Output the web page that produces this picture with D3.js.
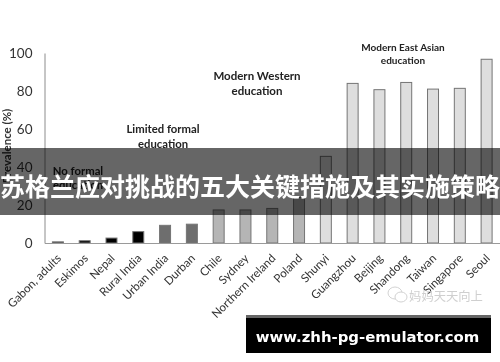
<!DOCTYPE html>
<html><head><meta charset="utf-8">
<script src="https://cdn.jsdelivr.net/npm/d3@7"></script>
<style>html,body{margin:0;padding:0;background:#fff}svg{display:block}</style>
</head><body><div id="c"></div>
<script>
const categories = ["Gabon, adults","Eskimos","Nepal","Rural India","Urban India","Durban","Chile","Sydney","Northern Ireland","Poland","Shunyi","Guangzhou","Beijing","Shandong","Taiwan","Singapore","Seoul"];
const values = [0.6,1.2,2.6,6,9.3,9.9,17.4,17.4,18.2,24,45.6,84,80.7,84.5,81,81.4,96.7];
const groups = [0,0,0,0,1,1,2,2,2,2,3,3,3,3,3,3,3];
const groupFill = ["#000000","#6e6e6e","#b5b5b5","#dedede"];
const yTicks = [0,20,40,60,80,100];
const notes = [
 {lines:["No formal","education"],x:78,y:175,size:11.3,gap:14},
 {lines:["Limited formal","education"],x:163,y:133,size:11.3,gap:14.5},
 {lines:["Modern Western","education"],x:257,y:80,size:11.5,gap:15},
 {lines:["Modern East Asian","education"],x:403,y:51,size:10,gap:13}
];
const bannerText = "苏格兰应对挑战的五大关键措施及其实施策略";
const footerText = "www.zhh-pg-emulator.com";
const watermark = "妈妈天天向上";

const W=500,H=362;
const svg=d3.select("#c").append("svg").attr("width",W).attr("height",H);
const font="Lato, Open Sans, sans-serif";
const x=d3.scaleBand().domain(categories).range([44.5,500]).paddingInner(0.59).paddingOuter(0.295);
const y=d3.scaleLinear().domain([0,100]).range([243,53]);

const defs=svg.append("defs");
defs.append("filter").attr("id","soft").append("feGaussianBlur").attr("stdDeviation",0.4);
const g=svg.append("g").attr("filter","url(#soft)");

g.selectAll("rect.bar").data(categories).join("rect").attr("class","bar")
 .attr("x",d=>x(d)).attr("width",x.bandwidth())
 .attr("y",(d,i)=>y(values[i])).attr("height",(d,i)=>y(0)-y(values[i]))
 .attr("fill",(d,i)=>groupFill[groups[i]])
 .attr("stroke","#757575").attr("stroke-width",1);

const yAxis=d3.axisLeft(y).tickValues(yTicks).tickSize(0).tickPadding(12);
const ya=g.append("g").attr("transform","translate(44.5,0)").call(yAxis);
ya.select(".domain").attr("stroke","#8c8c8c");
ya.selectAll("text").attr("font-family",font).attr("font-size",13.5).attr("fill","#333");

const xAxis=d3.axisBottom(x).tickSize(0).tickPadding(0);
const xa=g.append("g").attr("transform","translate(0,243)").call(xAxis);
xa.select(".domain").attr("stroke","#9a9a9a").attr("stroke-width",1);
xa.selectAll("text").attr("font-family",font).attr("font-size",11.6).attr("fill","#333")
 .attr("text-anchor","end").attr("dy",0)
 .attr("transform","translate(4,16) rotate(-45)");

g.append("text").attr("transform","translate(10.5,146) rotate(-90)")
 .attr("text-anchor","middle").attr("font-family",font).attr("font-size",11.5).attr("font-weight",700).attr("fill","#333")
 .text("Prevalence (%)");

notes.forEach(n=>{
 const t=g.append("text").attr("text-anchor","middle").attr("font-family",font).attr("font-size",n.size).attr("font-weight",700).attr("fill","#222");
 n.lines.forEach((l,i)=>t.append("tspan").attr("x",n.x).attr("y",n.y+i*n.gap).text(l));
});

const icon=svg.append("g").attr("fill","#fff").attr("stroke","#d2d2d2").attr("stroke-width",1);
icon.append("ellipse").attr("cx",395).attr("cy",293).attr("rx",7).attr("ry",6);
icon.append("ellipse").attr("cx",401).attr("cy",297).attr("rx",6).attr("ry",5);
svg.append("text").attr("x",446).attr("y",300.5).attr("text-anchor","middle")
 .attr("font-family","Noto Sans CJK SC").attr("font-size",12.3).attr("fill","#cfcfcf").text(watermark);

svg.append("rect").attr("x",0).attr("y",148).attr("width",W).attr("height",67).attr("fill","#000").attr("fill-opacity",0.6);
svg.append("text").attr("x",250).attr("y",196).attr("text-anchor","middle")
 .attr("font-family","Noto Sans CJK SC").attr("font-weight",700).attr("font-size",25).attr("fill","#fff").text(bannerText);

svg.append("rect").attr("x",246).attr("y",315).attr("width",245).attr("height",3).attr("fill","#666");
svg.append("rect").attr("x",246).attr("y",318).attr("width",245).attr("height",35).attr("fill","#000");
svg.append("text").attr("x",367.5).attr("y",342).attr("text-anchor","middle")
 .attr("font-family","DejaVu Sans").attr("font-weight",700).attr("font-size",14.9).attr("fill","#fff").text(footerText);
</script></body></html>
